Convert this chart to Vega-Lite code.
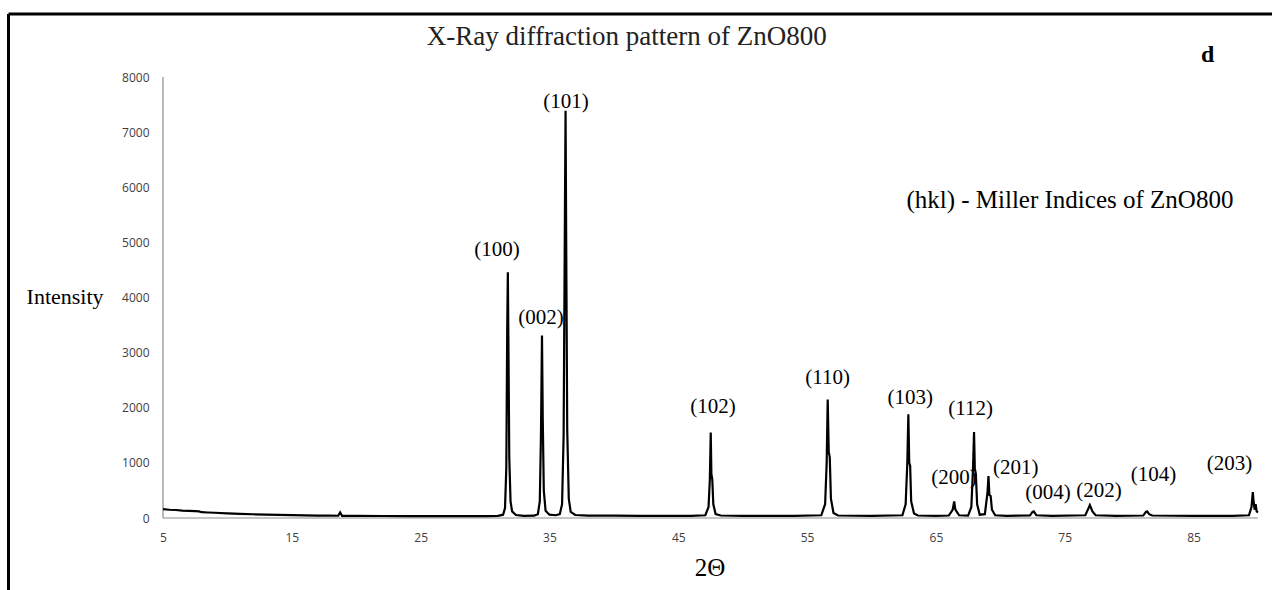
{
  "$schema": "https://vega.github.io/schema/vega-lite/v6.json",
  "width": 1263.5,
  "height": 576,
  "autosize": {"type": "none"},
  "padding": {"left": 8.5, "top": 14, "right": 0, "bottom": 0},
  "background": "white",
  "config": {
    "view": {"stroke": "black", "strokeWidth": 3, "strokeDash": [1263.5, 1839.5, 576, 0]}
  },
  "datasets": {
    "profile": [
      {"x": 5.0, "y": 160}, {"x": 5.5, "y": 150}, {"x": 6.0, "y": 145}, {"x": 6.5, "y": 135},
      {"x": 7.0, "y": 130}, {"x": 7.5, "y": 125}, {"x": 7.8, "y": 120}, {"x": 8.0, "y": 105},
      {"x": 8.5, "y": 100}, {"x": 9.0, "y": 95}, {"x": 10, "y": 85}, {"x": 11, "y": 75},
      {"x": 12, "y": 68}, {"x": 13, "y": 62}, {"x": 14, "y": 58}, {"x": 15, "y": 52},
      {"x": 16, "y": 48}, {"x": 17, "y": 45}, {"x": 18, "y": 42}, {"x": 18.6, "y": 41},
      {"x": 18.75, "y": 100}, {"x": 18.9, "y": 40}, {"x": 20, "y": 38}, {"x": 22, "y": 36},
      {"x": 24, "y": 34}, {"x": 26, "y": 33}, {"x": 28, "y": 33}, {"x": 30, "y": 33},
      {"x": 31.0, "y": 40}, {"x": 31.4, "y": 60}, {"x": 31.55, "y": 180}, {"x": 31.65, "y": 900},
      {"x": 31.72, "y": 3400}, {"x": 31.77, "y": 4460}, {"x": 31.82, "y": 3000}, {"x": 31.88, "y": 1100},
      {"x": 31.98, "y": 300}, {"x": 32.1, "y": 120}, {"x": 32.4, "y": 55}, {"x": 33, "y": 40},
      {"x": 33.8, "y": 42}, {"x": 34.1, "y": 70}, {"x": 34.25, "y": 300}, {"x": 34.34, "y": 1500},
      {"x": 34.42, "y": 3310}, {"x": 34.48, "y": 1800}, {"x": 34.56, "y": 500}, {"x": 34.7, "y": 130},
      {"x": 35.0, "y": 60}, {"x": 35.5, "y": 50}, {"x": 35.8, "y": 70}, {"x": 35.98, "y": 250},
      {"x": 36.1, "y": 1500}, {"x": 36.2, "y": 5500}, {"x": 36.25, "y": 7390}, {"x": 36.3, "y": 5000},
      {"x": 36.38, "y": 1600}, {"x": 36.5, "y": 350}, {"x": 36.65, "y": 110}, {"x": 37.0, "y": 55},
      {"x": 38, "y": 45}, {"x": 40, "y": 42}, {"x": 42, "y": 40}, {"x": 44, "y": 40},
      {"x": 46, "y": 40}, {"x": 47.1, "y": 50}, {"x": 47.35, "y": 200}, {"x": 47.45, "y": 700},
      {"x": 47.52, "y": 1550}, {"x": 47.57, "y": 800}, {"x": 47.64, "y": 700}, {"x": 47.72, "y": 250},
      {"x": 47.9, "y": 70}, {"x": 48.3, "y": 45}, {"x": 50, "y": 40}, {"x": 52, "y": 40},
      {"x": 54, "y": 40}, {"x": 56.1, "y": 50}, {"x": 56.4, "y": 250}, {"x": 56.52, "y": 1000},
      {"x": 56.6, "y": 2150}, {"x": 56.68, "y": 1200}, {"x": 56.76, "y": 1100}, {"x": 56.85, "y": 350},
      {"x": 57.05, "y": 90}, {"x": 57.4, "y": 45}, {"x": 60, "y": 40}, {"x": 62.4, "y": 50},
      {"x": 62.65, "y": 250}, {"x": 62.78, "y": 1000}, {"x": 62.86, "y": 1880}, {"x": 62.93, "y": 1000},
      {"x": 63.0, "y": 950}, {"x": 63.08, "y": 300}, {"x": 63.3, "y": 80}, {"x": 63.6, "y": 45},
      {"x": 65, "y": 40}, {"x": 66.0, "y": 45}, {"x": 66.3, "y": 150}, {"x": 66.42, "y": 300},
      {"x": 66.5, "y": 160}, {"x": 66.6, "y": 120}, {"x": 66.8, "y": 50}, {"x": 67.5, "y": 45},
      {"x": 67.75, "y": 200}, {"x": 67.88, "y": 900}, {"x": 67.96, "y": 1560}, {"x": 68.02, "y": 900},
      {"x": 68.1, "y": 800}, {"x": 68.2, "y": 250}, {"x": 68.4, "y": 60}, {"x": 68.8, "y": 70},
      {"x": 69.0, "y": 450}, {"x": 69.08, "y": 760}, {"x": 69.15, "y": 420}, {"x": 69.25, "y": 400},
      {"x": 69.35, "y": 150}, {"x": 69.6, "y": 50}, {"x": 70.5, "y": 40}, {"x": 72.3, "y": 45},
      {"x": 72.5, "y": 110}, {"x": 72.6, "y": 120}, {"x": 72.8, "y": 50}, {"x": 74, "y": 40},
      {"x": 76.6, "y": 50}, {"x": 76.85, "y": 180}, {"x": 76.95, "y": 235}, {"x": 77.05, "y": 180},
      {"x": 77.15, "y": 120}, {"x": 77.4, "y": 50}, {"x": 79, "y": 40}, {"x": 81.1, "y": 45},
      {"x": 81.3, "y": 110}, {"x": 81.4, "y": 120}, {"x": 81.55, "y": 70}, {"x": 81.8, "y": 45},
      {"x": 85, "y": 40}, {"x": 88, "y": 40}, {"x": 89.3, "y": 50}, {"x": 89.5, "y": 200},
      {"x": 89.6, "y": 470}, {"x": 89.66, "y": 300}, {"x": 89.75, "y": 150}, {"x": 89.82, "y": 250},
      {"x": 89.9, "y": 120}, {"x": 90.0, "y": 100}
    ],
    "axislines": [
      {"x": 5, "x2": 90, "y": 0, "y2": 0},
      {"x": 5, "x2": 5, "y": 0, "y2": 8000}
    ],
    "peaklabels": [
      {"x": 30.93, "y": 4869, "label": "(100)"},
      {"x": 34.34, "y": 3635, "label": "(002)"},
      {"x": 36.28, "y": 7554, "label": "(101)"},
      {"x": 47.7, "y": 2021, "label": "(102)"},
      {"x": 56.6, "y": 2547, "label": "(110)"},
      {"x": 63.0, "y": 2184, "label": "(103)"},
      {"x": 66.4, "y": 733, "label": "(200)"},
      {"x": 67.7, "y": 1975, "label": "(112)"},
      {"x": 71.2, "y": 900, "label": "(201)"},
      {"x": 73.7, "y": 461, "label": "(004)"},
      {"x": 77.66, "y": 497, "label": "(202)"},
      {"x": 81.9, "y": 787, "label": "(104)"},
      {"x": 87.8, "y": 987, "label": "(203)"}
    ],
    "note": [{"x": 75.4, "y": 5776, "label": "(hkl) - Miller Indices of ZnO800"}],
    "title": [{"x": 41.0, "y": 8720, "label": "X-Ray diffraction pattern of ZnO800"}],
    "panel": [{"x": 86.1, "y": 8400, "label": "d"}],
    "ytitle": [{"x": -2.6, "y": 4017, "label": "Intensity"}],
    "xtitle": [{"x": 47.46, "y": -900, "label": "2Θ"}]
  },
  "encoding": {
    "x": {
      "field": "x", "type": "quantitative",
      "scale": {"domain": [-6.9935, 91.09], "nice": false, "zero": false},
      "axis": {
        "values": [5, 15, 25, 35, 45, 55, 65, 75, 85],
        "domain": false, "ticks": false, "grid": false, "title": null,
        "offset": -72, "labelPadding": 14,
        "labelFont": "Open Sans", "labelFontSize": 12, "labelColor": "#404040",
        "labelFlush": false, "labelOverlap": false
      }
    },
    "y": {
      "field": "y", "type": "quantitative",
      "scale": {"domain": [-1306, 9143], "nice": false, "zero": false},
      "axis": {
        "values": [0, 1000, 2000, 3000, 4000, 5000, 6000, 7000, 8000],
        "domain": false, "ticks": false, "grid": false, "title": null,
        "offset": -154.5, "labelPadding": 14,
        "labelFont": "Open Sans", "labelFontSize": 12, "labelColor": "#404040",
        "labelFlush": false, "labelOverlap": false, "format": "d"
      }
    }
  },
  "layer": [
    {
      "data": {"name": "axislines"},
      "mark": {"type": "rule", "color": "#8c8c8c", "strokeWidth": 1.2},
      "encoding": {"x2": {"field": "x2"}, "y2": {"field": "y2"}}
    },
    {
      "data": {"name": "profile"},
      "mark": {"type": "line", "color": "black", "strokeWidth": 2.2, "interpolate": "linear"}
    },
    {
      "data": {"name": "peaklabels"},
      "mark": {"type": "text", "font": "Liberation Serif", "fontSize": 21, "color": "black", "baseline": "middle", "align": "center"},
      "encoding": {"text": {"field": "label"}}
    },
    {
      "data": {"name": "note"},
      "mark": {"type": "text", "font": "Liberation Serif", "fontSize": 25, "color": "black", "baseline": "middle", "align": "center"},
      "encoding": {"text": {"field": "label"}}
    },
    {
      "data": {"name": "title"},
      "mark": {"type": "text", "font": "Liberation Serif", "fontSize": 27, "color": "#222", "baseline": "middle", "align": "center"},
      "encoding": {"text": {"field": "label"}}
    },
    {
      "data": {"name": "panel"},
      "mark": {"type": "text", "font": "Liberation Serif", "fontSize": 24, "fontWeight": "bold", "color": "black", "baseline": "middle", "align": "center"},
      "encoding": {"text": {"field": "label"}}
    },
    {
      "data": {"name": "ytitle"},
      "mark": {"type": "text", "font": "Liberation Serif", "fontSize": 22, "color": "black", "baseline": "middle", "align": "center"},
      "encoding": {"text": {"field": "label"}}
    },
    {
      "data": {"name": "xtitle"},
      "mark": {"type": "text", "font": "Liberation Serif", "fontSize": 25, "color": "black", "baseline": "middle", "align": "center"},
      "encoding": {"text": {"field": "label"}}
    }
  ]
}
